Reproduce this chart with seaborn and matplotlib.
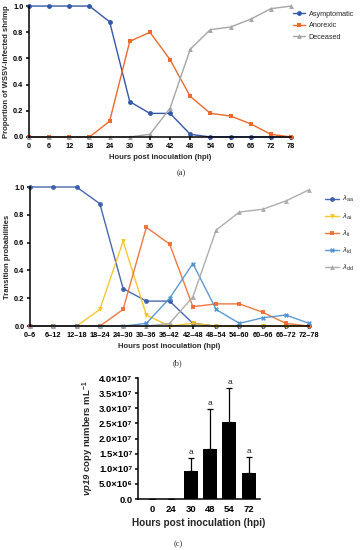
import numpy as np
import pandas as pd
import matplotlib
matplotlib.use('Agg')
import matplotlib.pyplot as plt
import seaborn as sns

sns.set_style('ticks')
plt.rcParams['font.family'] = ['Liberation Sans', 'DejaVu Sans']
plt.rcParams['mathtext.fontset'] = 'custom'
plt.rcParams['mathtext.rm'] = 'Liberation Sans'
plt.rcParams['mathtext.it'] = 'Liberation Sans:italic'
plt.rcParams['mathtext.bf'] = 'Liberation Sans:bold'
plt.rcParams['mathtext.bfit'] = 'Liberation Sans:italic:bold'

# ---- panel (a) data ----
hours = [0, 6, 12, 18, 24, 30, 36, 42, 48, 54, 60, 66, 72, 78]
asymptomatic = [1, 1, 1, 1, 0.88, 0.27, 0.18, 0.18, 0.02, 0, 0, 0, 0, 0]
anorexic = [0, 0, 0, 0, 0.12, 0.73, 0.80, 0.59, 0.31, 0.18, 0.16, 0.10, 0.02, 0]
deceased = [0, 0, 0, 0, 0, 0, 0.02, 0.22, 0.67, 0.82, 0.84, 0.90, 0.98, 1.0]

# ---- panel (b) data ----
intervals = ['0–6', '6–12', '12–18', '18–24', '24–30', '30–36', '36–42',
             '42–48', '48–54', '54–60', '60–66', '66–72', '72–78']
lam_aa = [1, 1, 1, 0.88, 0.27, 0.18, 0.18, 0.02, 0, 0, 0, 0, 0]
lam_ai = [0, 0, 0, 0.12, 0.61, 0.08, 0.0, 0.02, 0, 0, 0, 0, 0]
lam_ii = [0, 0, 0, 0, 0.12, 0.71, 0.59, 0.14, 0.16, 0.16, 0.10, 0.02, 0]
lam_id = [0, 0, 0, 0, 0, 0.02, 0.20, 0.45, 0.12, 0.02, 0.06, 0.08, 0.02]
lam_dd = [0, 0, 0, 0, 0, 0, 0.02, 0.21, 0.69, 0.82, 0.84, 0.90, 0.98]

# ---- panel (c) data ----
vp_hours = ['0', '24', '30', '48', '54', '72']
vp_mean = [0, 0, 9.3e6, 1.65e7, 2.55e7, 8.7e6]
vp_err = [0, 0, 4.2e6, 1.32e7, 1.13e7, 5.3e6]
vp_letters = ['', '', 'a', 'a', 'a', 'a']

blue = '#3458A8'
orange = '#EE6A2C'
gray = '#A5A5A5'
yellow = '#F7C21C'
lblue = '#4A8FD0'


def style_axes(ax, lw=1.1):
    sns.despine(ax=ax)
    for s in ['left', 'bottom']:
        ax.spines[s].set_linewidth(lw)
        ax.spines[s].set_color('black')
    ax.tick_params(axis='both', direction='out', length=2.5, width=lw, pad=1.5, colors='black')


fig = plt.figure(figsize=(3.62, 5.5), dpi=100)

# ===== (a) =====
ax1 = fig.add_axes([0.080, 0.751, 0.724, 0.238])
for vals, name, col, mk in [(asymptomatic, 'Asymptomatic', blue, 'o'),
                            (anorexic, 'Anorexic', orange, 's'),
                            (deceased, 'Deceased', gray, '^')]:
    sns.lineplot(x=hours, y=vals, ax=ax1, color=col, marker=mk, markersize=3.5,
                 markeredgewidth=0, linewidth=1.0, label=name, clip_on=False)
ax1.set_xlim(0, 78)
ax1.set_ylim(0, 1.0)
ax1.set_xticks(hours)
ax1.set_yticks([0, 0.2, 0.4, 0.6, 0.8, 1.0])
ax1.set_yticklabels(['0.0', '0.2', '0.4', '0.6', '0.8', '1.0'])
for lab in ax1.get_xticklabels() + ax1.get_yticklabels():
    lab.set_fontsize(5.3)
    lab.set_fontweight('bold')
ax1.set_xlabel('Hours post inoculation (hpi)', fontsize=5.5, fontweight='bold', labelpad=3)
ax1.set_ylabel('Proportion of WSSV-infected shrimp', fontsize=5.5, fontweight='bold', labelpad=2)
style_axes(ax1)
ax1.legend(loc='upper left', bbox_to_anchor=(0.995, 0.985), frameon=False, fontsize=5.2,
           handlelength=1.7, labelspacing=0.6, handletextpad=0.5, borderaxespad=0)

# ===== (b) =====
ax2 = fig.add_axes([0.083, 0.407, 0.771, 0.253])
xpos = np.arange(len(intervals))
for vals, name, col, mk in [(lam_aa, r'$\lambda_{\rm aa}$', blue, 'o'),
                            (lam_ai, r'$\lambda_{\rm ai}$', yellow, 'v'),
                            (lam_ii, r'$\lambda_{\rm ii}$', orange, 's'),
                            (lam_id, r'$\lambda_{\rm id}$', lblue, 'X'),
                            (lam_dd, r'$\lambda_{\rm dd}$', gray, '^')]:
    sns.lineplot(x=xpos, y=vals, ax=ax2, color=col, marker=mk, markersize=3.5,
                 markeredgewidth=0, linewidth=1.0, label=name, clip_on=False, alpha=0.9)
ax2.set_xlim(0, len(intervals) - 1)
ax2.set_ylim(0, 1.0)
ax2.set_xticks(xpos)
ax2.set_xticklabels(intervals)
ax2.set_yticks([0, 0.2, 0.4, 0.6, 0.8, 1.0])
ax2.set_yticklabels(['0.0', '0.2', '0.4', '0.6', '0.8', '1.0'])
for lab in ax2.get_xticklabels() + ax2.get_yticklabels():
    lab.set_fontsize(5.3)
    lab.set_fontweight('bold')
ax2.set_xlabel('Hours post inoculation (hpi)', fontsize=5.5, fontweight='bold', labelpad=3)
ax2.set_ylabel('Transition probabilities', fontsize=5.5, fontweight='bold', labelpad=2)
style_axes(ax2)
ax2.legend(loc='upper left', bbox_to_anchor=(1.045, 0.97), frameon=False, fontsize=5.5,
           handlelength=1.8, labelspacing=0.9, handletextpad=0.5, borderaxespad=0)

# ===== (c) =====
ax3 = fig.add_axes([0.381, 0.0927, 0.337, 0.22])
df_c = pd.DataFrame({'hpi': vp_hours, 'copies': vp_mean})
sns.barplot(data=df_c, x='hpi', y='copies', ax=ax3, color='black', width=0.72,
            saturation=1, errorbar=None, edgecolor='black', linewidth=0)
ax3.errorbar(np.arange(len(vp_hours)), vp_mean,
             yerr=[np.zeros(len(vp_err)), vp_err], fmt='none', ecolor='black',
             elinewidth=0.9, capsize=2.5, capthick=0.9)
for i, (m, e, t) in enumerate(zip(vp_mean, vp_err, vp_letters)):
    if t:
        ax3.text(i, m + e + 0.6e6, t, ha='center', va='bottom', fontsize=6)
ax3.set_xlim(-0.72, 5.57)
ax3.set_ylim(0, 4.0e7)
yt = np.arange(0, 4.01e7, 5e6)
ax3.set_yticks(yt)
ax3.set_yticklabels(['0.0', '5.0×10⁶', '1.0×10⁷', '1.5×10⁷', '2.0×10⁷',
                     '2.5×10⁷', '3.0×10⁷', '3.5×10⁷', '4.0×10⁷'])
for lab in ax3.get_xticklabels() + ax3.get_yticklabels():
    lab.set_fontsize(6.8)
    lab.set_fontweight('bold')
ax3.set_xlabel('Hours post inoculation (hpi)', fontsize=7.2, fontweight='bold', labelpad=3)
ax3.set_ylabel(r'$\mathbfit{vp19}$ copy numbers mL$^{\mathbf{-1}}$', fontsize=6.8,
               fontweight='bold', labelpad=2)
style_axes(ax3)
ax3.tick_params(axis='x', length=0, pad=4)

# panel letters
fig.text(0.502, 1 - 173 / 550, '(a)', ha='center', va='center', fontsize=6,
         family=['Liberation Serif', 'DejaVu Serif'])
fig.text(0.489, 1 - 363 / 550, '(b)', ha='center', va='center', fontsize=6,
         family=['Liberation Serif', 'DejaVu Serif'])
fig.text(0.492, 1 - 544 / 550, '(c)', ha='center', va='center', fontsize=6,
         family=['Liberation Serif', 'DejaVu Serif'])

fig.savefig('out.png', dpi=100, facecolor='white')
